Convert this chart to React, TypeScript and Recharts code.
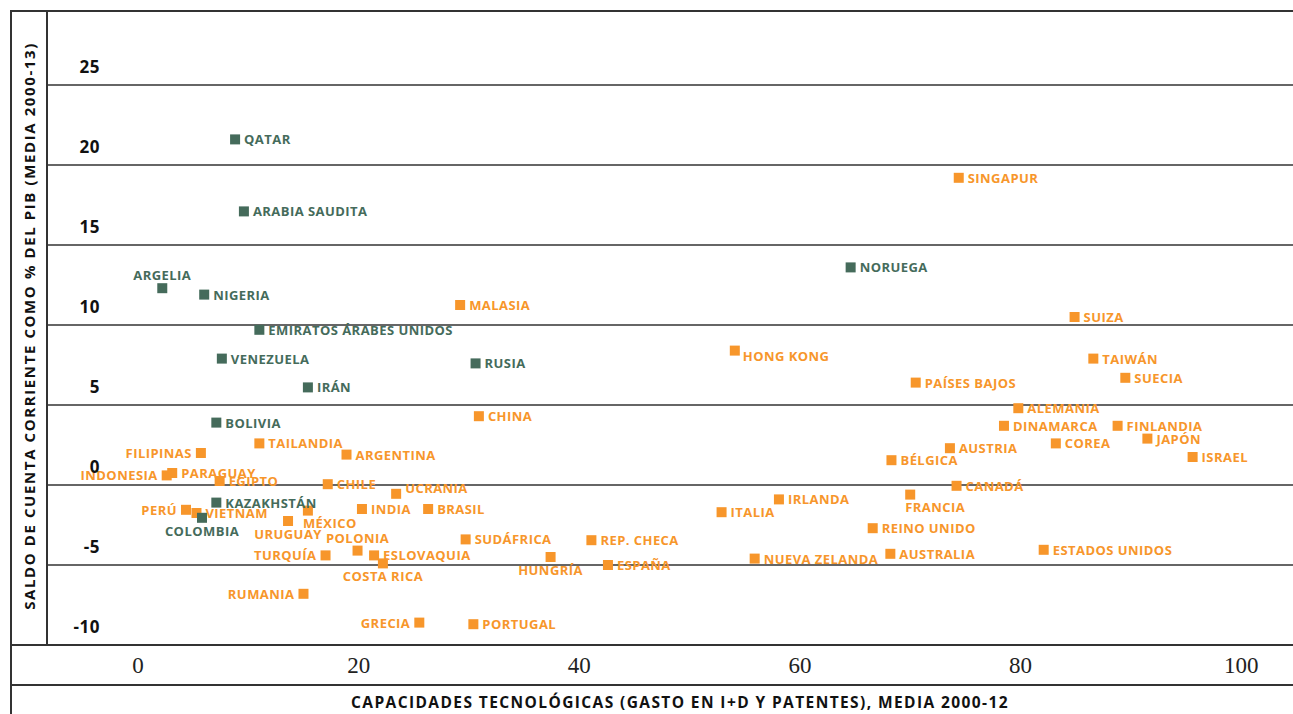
import React from "react";
import { ScatterChart, Scatter, XAxis, YAxis, CartesianGrid } from "recharts";

// Oil exporters (green)
const greenNames = ["QATAR", "ARABIA SAUDITA", "NORUEGA", "ARGELIA", "NIGERIA", "EMIRATOS ÁRABES UNIDOS", "VENEZUELA", "RUSIA", "IRÁN", "BOLIVIA", "KAZAKHSTÁN", "COLOMBIA"];
const greenTech = [8.8, 9.6, 64.6, 2.2, 6.0, 11.0, 7.6, 30.6, 15.4, 7.1, 7.1, 5.8];
const greenBalance = [21.6, 17.1, 13.6, 12.3, 11.9, 9.7, 7.9, 7.6, 6.1, 3.9, -1.1, -2.05];

// Other economies (orange)
const orangeNames = ["SINGAPUR", "MALASIA", "SUIZA", "HONG KONG", "TAIWÁN", "SUECIA", "PAÍSES BAJOS", "ALEMANIA", "CHINA", "DINAMARCA", "FINLANDIA", "JAPÓN", "COREA", "AUSTRIA", "ISRAEL", "BÉLGICA", "TAILANDIA", "FILIPINAS", "ARGENTINA", "PARAGUAY", "INDONESIA", "EGIPTO", "CHILE", "CANADÁ", "UCRANIA", "FRANCIA", "IRLANDA", "PERÚ", "VIETNAM", "MÉXICO", "INDIA", "BRASIL", "ITALIA", "URUGUAY", "REINO UNIDO", "SUDÁFRICA", "REP. CHECA", "POLONIA", "ESTADOS UNIDOS", "AUSTRALIA", "ESLOVAQUIA", "TURQUÍA", "HUNGRÍA", "NUEVA ZELANDA", "COSTA RICA", "ESPAÑA", "RUMANIA", "GRECIA", "PORTUGAL"];
const orangeTech = [74.4, 29.2, 84.9, 54.1, 86.6, 89.5, 70.5, 79.8, 30.9, 78.5, 88.8, 91.5, 83.2, 73.6, 95.6, 68.3, 11.0, 5.7, 18.9, 3.1, 2.6, 7.4, 17.2, 74.2, 23.4, 70.0, 58.1, 4.35, 5.3, 15.4, 20.3, 26.3, 52.9, 13.6, 66.6, 29.7, 41.1, 19.9, 82.1, 68.2, 21.4, 17.0, 37.4, 55.9, 22.2, 42.6, 15.0, 25.5, 30.4];
const orangeBalance = [19.2, 11.25, 10.5, 8.4, 7.9, 6.7, 6.4, 4.8, 4.3, 3.7, 3.7, 2.9, 2.6, 2.3, 1.75, 1.55, 2.6, 2.0, 1.9, 0.75, 0.6, 0.25, 0.05, -0.05, -0.55, -0.6, -0.9, -1.55, -1.75, -1.6, -1.5, -1.5, -1.7, -2.25, -2.7, -3.4, -3.45, -4.1, -4.05, -4.3, -4.4, -4.4, -4.5, -4.6, -4.9, -5.0, -6.8, -8.6, -8.7];

const xTicks = [0, 20, 40, 60, 80, 100];
const yTicks = [-10, -5, 0, 5, 10, 15, 20, 25];

const xTitle = "CAPACIDADES TECNOLÓGICAS (GASTO EN I+D Y PATENTES), MEDIA 2000-12";
const yTitle = "SALDO DE CUENTA CORRIENTE COMO % DEL PIB (MEDIA 2000-13)";

// label placement (style, kept separate from data)
const labelSide: Record<string, string> = {
  FILIPINAS: "l", INDONESIA: "l", "PERÚ": "l", "TURQUÍA": "l", RUMANIA: "l", GRECIA: "l",
  ARGELIA: "t", POLONIA: "t",
  COLOMBIA: "b", "COSTA RICA": "b", "HUNGRÍA": "b", URUGUAY: "b",
  "MÉXICO": "bl", FRANCIA: "bl",
  UCRANIA: "tr", "HONG KONG": "rd",
};

const GREEN = "#456b5b";
const ORANGE = "#f7962b";
const LABEL_FONT = "'Open Sans', 'Noto Sans', sans-serif";
const LINE = "#333";

const greenData = greenNames.map((name, i) => ({ name, x: greenTech[i], y: greenBalance[i] }));
const orangeData = orangeNames.map((name, i) => ({ name, x: orangeTech[i], y: orangeBalance[i] }));

function makeShape(color: string) {
  return (props: any) => {
    const { cx, cy, payload } = props;
    if (cx == null || cy == null) return <g />;
    const side = labelSide[payload.name] || "r";
    let tx = cx + 9;
    let ty = cy;
    let anchor: "start" | "end" | "middle" = "start";
    if (side === "l") { tx = cx - 9; anchor = "end"; }
    else if (side === "t") { tx = cx; ty = cy - 13; anchor = "middle"; }
    else if (side === "b") { tx = cx; ty = cy + 13; anchor = "middle"; }
    else if (side === "bl") { tx = cx - 5; ty = cy + 12; anchor = "start"; }
    else if (side === "tr") { tx = cx + 9; ty = cy - 6; }
    else if (side === "rd") { tx = cx + 8; ty = cy + 5; }
    return (
      <g>
        <rect x={cx - 5} y={cy - 5} width={10} height={10} fill={color} />
        <text x={tx} y={ty} textAnchor={anchor} dominantBaseline="central" fill={color}
          fontFamily={LABEL_FONT} fontWeight={700} fontSize={13} letterSpacing={0.45}>
          {payload.name}
        </text>
      </g>
    );
  };
}

const YTick = (props: any) => {
  const { x, y, payload } = props;
  return (
    <text x={x + 53} y={y - 19} textAnchor="end" dominantBaseline="central" fill="#111"
      fontFamily={LABEL_FONT} fontWeight={700} fontSize={17} letterSpacing={0.5}>
      {payload.value}
    </text>
  );
};

const XTick = (props: any) => {
  const { x, y, payload } = props;
  return (
    <text x={x} y={y + 20} textAnchor="middle" dominantBaseline="central" fill="#222"
      fontFamily="'Liberation Serif', 'DejaVu Serif', serif" fontSize={23}>
      {payload.value}
    </text>
  );
};

const hLine = (top: number, left: number): React.CSSProperties => ({
  position: "absolute", top, left, width: 1293 - left, height: 0, borderTop: `2px solid ${LINE}`,
});
const vLine = (left: number, top: number, height: number): React.CSSProperties => ({
  position: "absolute", top, left, width: 0, height, borderLeft: `2px solid ${LINE}`,
});

export default function App() {
  return (
    <div style={{ position: "relative", width: 1293, height: 714, background: "#fff", overflow: "hidden" }}>
      <style>{"body{margin:0;}"}</style>
      <div style={{ position: "absolute", left: 0, top: 0 }}>
        <ScatterChart width={1293} height={685} margin={{ top: 11, right: 0, bottom: 0, left: 10 }}>
          <CartesianGrid horizontal vertical={false} stroke={LINE} strokeWidth={1.5} strokeOpacity={1} />
          <XAxis type="number" dataKey="x" domain={[-8.25, 104.7]} ticks={xTicks} height={40}
            axisLine={false} tickLine={false} tickSize={0} tickMargin={0} tick={<XTick />} allowDataOverflow />
          <YAxis type="number" dataKey="y" domain={[-10, 29.625]} ticks={yTicks} width={37}
            axisLine={false} tickLine={false} tickSize={0} tickMargin={0} tick={<YTick />} allowDataOverflow />
          <Scatter data={orangeData} fill={ORANGE} shape={makeShape(ORANGE)} isAnimationActive={false} />
          <Scatter data={greenData} fill={GREEN} shape={makeShape(GREEN)} isAnimationActive={false} />
        </ScatterChart>
      </div>
      <div style={hLine(10, 10)} />
      <div style={hLine(644, 10)} />
      <div style={hLine(684, 10)} />
      <div style={vLine(10, 10, 704)} />
      <div style={vLine(46, 10, 635)} />
      <div style={{
        position: "absolute", left: 29, top: 326, transform: "translate(-50%, -50%) rotate(-90deg)",
        whiteSpace: "nowrap", fontFamily: LABEL_FONT, fontWeight: 700, fontSize: 15, letterSpacing: 1.6, color: "#111",
      }}>{yTitle}</div>
      <div style={{
        position: "absolute", left: 680, top: 702, transform: "translate(-50%, -50%)",
        whiteSpace: "nowrap", fontFamily: LABEL_FONT, fontWeight: 700, fontSize: 15.5, letterSpacing: 1.4, color: "#111",
      }}>{xTitle}</div>
    </div>
  );
}
